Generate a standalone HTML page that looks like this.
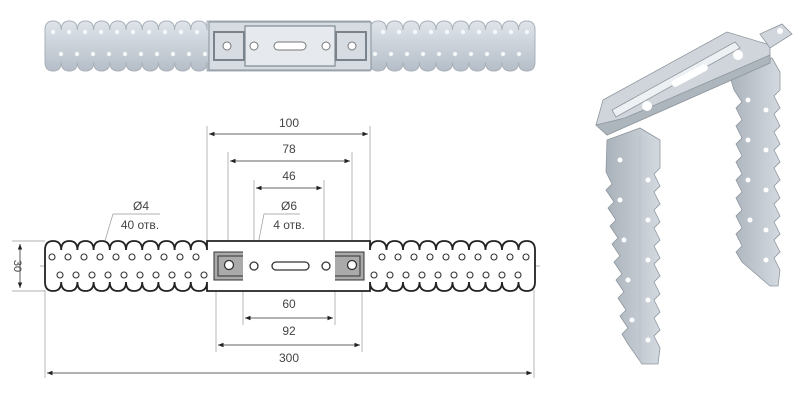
<!DOCTYPE html>
<html><head><meta charset="utf-8"><style>
html,body{margin:0;padding:0;background:#fff;}
svg{display:block}
text{font-family:"Liberation Sans",sans-serif;font-size:12px;fill:#444;text-anchor:middle}
</style></head><body>
<svg width="800" height="403" viewBox="0 0 800 403" xmlns="http://www.w3.org/2000/svg">
<defs>
<marker id="a" viewBox="0 0 10 10" refX="10" refY="5" markerWidth="7" markerHeight="7" orient="auto-start-reverse"><path d="M0,1 L10,5 L0,9z" fill="#222"/></marker>
<linearGradient id="g" x1="0" y1="0" x2="0" y2="1"><stop offset="0" stop-color="#dfe4ea"/><stop offset="1" stop-color="#b5bec8"/></linearGradient>
<linearGradient id="g2" x1="0" y1="0" x2="1" y2="0"><stop offset="0" stop-color="#a9b1ba"/><stop offset="1" stop-color="#d3d9df"/></linearGradient>
<path id="strip" d="M45,250 q0,-9 8.1,-9 q8.1,0 8.1,9 q0,-9 8.1,-9 q8.1,0 8.1,9 q0,-9 8.1,-9 q8.1,0 8.1,9 q0,-9 8.1,-9 q8.1,0 8.1,9 q0,-9 8.1,-9 q8.1,0 8.1,9 q0,-9 8.1,-9 q8.1,0 8.1,9 q0,-9 8.1,-9 q8.1,0 8.1,9 q0,-9 8.1,-9 q8.1,0 8.1,9 q0,-9 8.1,-9 q8.1,0 8.1,9 q0,-9 8.1,-9 q8.1,0 8.1,9 L207,241 L370,241 L370,250 q0,-9 8.25,-9 q8.25,0 8.25,9 q0,-9 8.25,-9 q8.25,0 8.25,9 q0,-9 8.25,-9 q8.25,0 8.25,9 q0,-9 8.25,-9 q8.25,0 8.25,9 q0,-9 8.25,-9 q8.25,0 8.25,9 q0,-9 8.25,-9 q8.25,0 8.25,9 q0,-9 8.25,-9 q8.25,0 8.25,9 q0,-9 8.25,-9 q8.25,0 8.25,9 q0,-9 8.25,-9 q8.25,0 8.25,9 q0,-9 8.25,-9 q8.25,0 8.25,9 L535,282 q0,9 -8.25,9 q-8.25,0 -8.25,-9 q0,9 -8.25,9 q-8.25,0 -8.25,-9 q0,9 -8.25,9 q-8.25,0 -8.25,-9 q0,9 -8.25,9 q-8.25,0 -8.25,-9 q0,9 -8.25,9 q-8.25,0 -8.25,-9 q0,9 -8.25,9 q-8.25,0 -8.25,-9 q0,9 -8.25,9 q-8.25,0 -8.25,-9 q0,9 -8.25,9 q-8.25,0 -8.25,-9 q0,9 -8.25,9 q-8.25,0 -8.25,-9 q0,9 -8.25,9 q-8.25,0 -8.25,-9 L370,291 L207,291 L207,282 q0,9 -8.1,9 q-8.1,0 -8.1,-9 q0,9 -8.1,9 q-8.1,0 -8.1,-9 q0,9 -8.1,9 q-8.1,0 -8.1,-9 q0,9 -8.1,9 q-8.1,0 -8.1,-9 q0,9 -8.1,9 q-8.1,0 -8.1,-9 q0,9 -8.1,9 q-8.1,0 -8.1,-9 q0,9 -8.1,9 q-8.1,0 -8.1,-9 q0,9 -8.1,9 q-8.1,0 -8.1,-9 q0,9 -8.1,9 q-8.1,0 -8.1,-9 q0,9 -8.1,9 q-8.1,0 -8.1,-9 Z"/>
</defs>

<use href="#strip" y="-220" fill="url(#g)" stroke="#a8b0b8" stroke-width="1"/>
<g fill="#f4f6f8"><g id="th"><circle cx="53" cy="32" r="2.2"/><circle cx="69" cy="32" r="2.2"/><circle cx="85" cy="32" r="2.2"/><circle cx="101" cy="32" r="2.2"/><circle cx="117" cy="32" r="2.2"/><circle cx="133" cy="32" r="2.2"/><circle cx="149" cy="32" r="2.2"/><circle cx="165" cy="32" r="2.2"/><circle cx="181" cy="32" r="2.2"/><circle cx="197" cy="32" r="2.2"/></g><use href="#th" x="8" y="22"/><use href="#th" x="330"/><use href="#th" x="322" y="22"/></g>
<rect x="209" y="22" width="162" height="48" fill="#d6dce2" stroke="#8a939c"/>
<rect x="245" y="26" width="90" height="40" fill="#e6eaee" stroke="#6f7880"/>
<rect x="214" y="32" width="30" height="28" fill="none" stroke="#7a838c" stroke-width="2"/>
<rect x="336" y="32" width="30" height="28" fill="none" stroke="#7a838c" stroke-width="2"/>
<circle cx="227" cy="46" r="4" fill="#fff" stroke="#777"/><circle cx="254" cy="46" r="4" fill="#fff" stroke="#777"/>
<circle cx="326" cy="46" r="4" fill="#fff" stroke="#777"/><circle cx="352" cy="46" r="4" fill="#fff" stroke="#777"/>
<rect x="274" y="42" width="32" height="8" rx="4" fill="#fff" stroke="#777"/>

<g stroke="#999" stroke-width="0.7" fill="none">
<line x1="207" y1="126" x2="207" y2="241"/><line x1="370" y1="126" x2="370" y2="241"/>
<line x1="228" y1="152" x2="228" y2="262"/><line x1="352" y1="152" x2="352" y2="262"/>
<line x1="254" y1="180" x2="254" y2="265"/><line x1="324" y1="180" x2="324" y2="265"/>
<line x1="243" y1="275" x2="243" y2="325"/><line x1="335" y1="275" x2="335" y2="325"/>
<line x1="216" y1="275" x2="216" y2="352"/><line x1="362" y1="275" x2="362" y2="352"/>
<line x1="45" y1="290" x2="45" y2="378"/><line x1="534" y1="290" x2="534" y2="378"/>
<line x1="12" y1="241" x2="45" y2="241"/><line x1="12" y1="291" x2="45" y2="291"/>
<line x1="40" y1="266" x2="540" y2="266" stroke-dasharray="6 3"/>
<polyline points="104,244 113,214 160,214"/><polyline points="254,265 264,214 300,214"/>
</g>
<g stroke="#333" stroke-width="0.8" marker-start="url(#a)" marker-end="url(#a)">
<line x1="209" y1="134" x2="368" y2="134"/>
<line x1="230" y1="161" x2="350" y2="161"/>
<line x1="256" y1="188" x2="322" y2="188"/>
<line x1="245" y1="318" x2="333" y2="318"/>
<line x1="218" y1="345" x2="360" y2="345"/>
<line x1="47" y1="373" x2="532" y2="373"/>
<line x1="20" y1="244" x2="20" y2="288"/>
</g>
<text x="289" y="127">100</text><text x="289" y="153">78</text><text x="289" y="180">46</text>
<text x="289" y="210">Ø6</text><text x="289" y="229">4 отв.</text>
<text x="141" y="210">Ø4</text><text x="140" y="229">40 отв.</text>
<text x="289" y="308">60</text><text x="289" y="335">92</text><text x="289" y="362">300</text>
<text x="0" y="0" transform="translate(14,266) rotate(90)" style="font-size:11px">30</text>

<use href="#strip" fill="#fff" stroke="#222" stroke-width="1.8"/>
<g fill="#fff" stroke="#333" stroke-width="1.1">
<g id="hr"><circle cx="52" cy="257" r="3"/><circle cx="68" cy="257" r="3"/><circle cx="84" cy="257" r="3"/><circle cx="100" cy="257" r="3"/><circle cx="116" cy="257" r="3"/><circle cx="132" cy="257" r="3"/><circle cx="148" cy="257" r="3"/><circle cx="164" cy="257" r="3"/><circle cx="180" cy="257" r="3"/><circle cx="196" cy="257" r="3"/></g>
<use href="#hr" x="8" y="18"/><use href="#hr" x="330"/><use href="#hr" x="322" y="18"/>
</g>
<path d="M243,252 H214 V280 H243 M243,256 H218 V276 H243" fill="#aaa" stroke="#333" stroke-width="1"/>
<path d="M335,252 H364 V280 H335 M335,256 H360 V276 H335" fill="#aaa" stroke="#333" stroke-width="1"/>
<g fill="#fff" stroke="#333" stroke-width="1.3">
<circle cx="229" cy="265" r="4.5"/><circle cx="254" cy="266" r="4"/><circle cx="326" cy="266" r="4"/><circle cx="352" cy="265" r="4.5"/>
<rect x="272" y="262" width="37" height="8" rx="4"/>
</g>

<!-- 3D bracket -->
<g stroke="#8e969e" stroke-width="0.8">
<polygon points="728,70 772,58 780,72 780,90 774,96 780,108 774,114 780,126 774,132 780,144 774,150 780,162 774,168 780,180 774,186 780,198 774,204 780,216 774,222 780,234 774,240 780,252 774,258 780,270 778,286 770,286 742,262 736,252 742,246 736,234 742,228 736,216 742,210 736,198 742,192 736,180 742,174 736,162 742,156 736,144 742,138 736,126 742,120 736,108 742,102 734,90" fill="url(#g2)"/>
<polygon points="607,140 640,128 660,140 660,168 654,174 660,186 654,192 660,204 654,210 660,222 654,228 660,240 654,246 660,258 654,264 660,276 654,282 660,294 654,300 660,312 654,318 660,330 654,336 660,348 658,364 642,364 628,344 622,334 628,328 620,316 626,310 618,298 624,292 616,280 622,274 614,262 620,256 612,244 618,238 610,226 616,220 608,208 614,202 606,190 612,184 606,172" fill="url(#g2)"/>
<line x1="640" y1="135" x2="640" y2="362" stroke="#b7bec5"/>
<polygon points="603,100 727,32 770,45 770,63 607,135 596,125" fill="#cfd5db"/>
<polygon points="596,125 607,135 770,63 770,55 625,118" fill="#adb5bd"/>
<polygon points="760,34 782,24 792,34 770,48" fill="#d0d6dc"/>
<polygon points="612,110 735,42 740,48 616,117" fill="#eef1f3"/>
</g>
<rect x="670" y="72" width="40" height="7" rx="3.5" fill="#fff" transform="rotate(-28 690 76)"/>
<circle cx="647" cy="106" r="5" fill="#fff"/><circle cx="738" cy="55" r="5" fill="#fff"/><circle cx="780" cy="31" r="3" fill="#fff"/>
<g fill="#fff">
<circle cx="620" cy="160" r="2.5"/><circle cx="648" cy="180" r="2.5"/><circle cx="620" cy="200" r="2.5"/><circle cx="648" cy="220" r="2.5"/><circle cx="624" cy="240" r="2.5"/><circle cx="648" cy="260" r="2.5"/><circle cx="628" cy="280" r="2.5"/><circle cx="648" cy="300" r="2.5"/><circle cx="632" cy="320" r="2.5"/><circle cx="648" cy="340" r="2.5"/>
<circle cx="748" cy="100" r="2.5"/><circle cx="766" cy="110" r="2.5"/><circle cx="748" cy="140" r="2.5"/><circle cx="766" cy="150" r="2.5"/><circle cx="748" cy="180" r="2.5"/><circle cx="766" cy="190" r="2.5"/><circle cx="750" cy="220" r="2.5"/><circle cx="766" cy="230" r="2.5"/><circle cx="766" cy="260" r="2.5"/>
</g>
</svg>
</body></html>
